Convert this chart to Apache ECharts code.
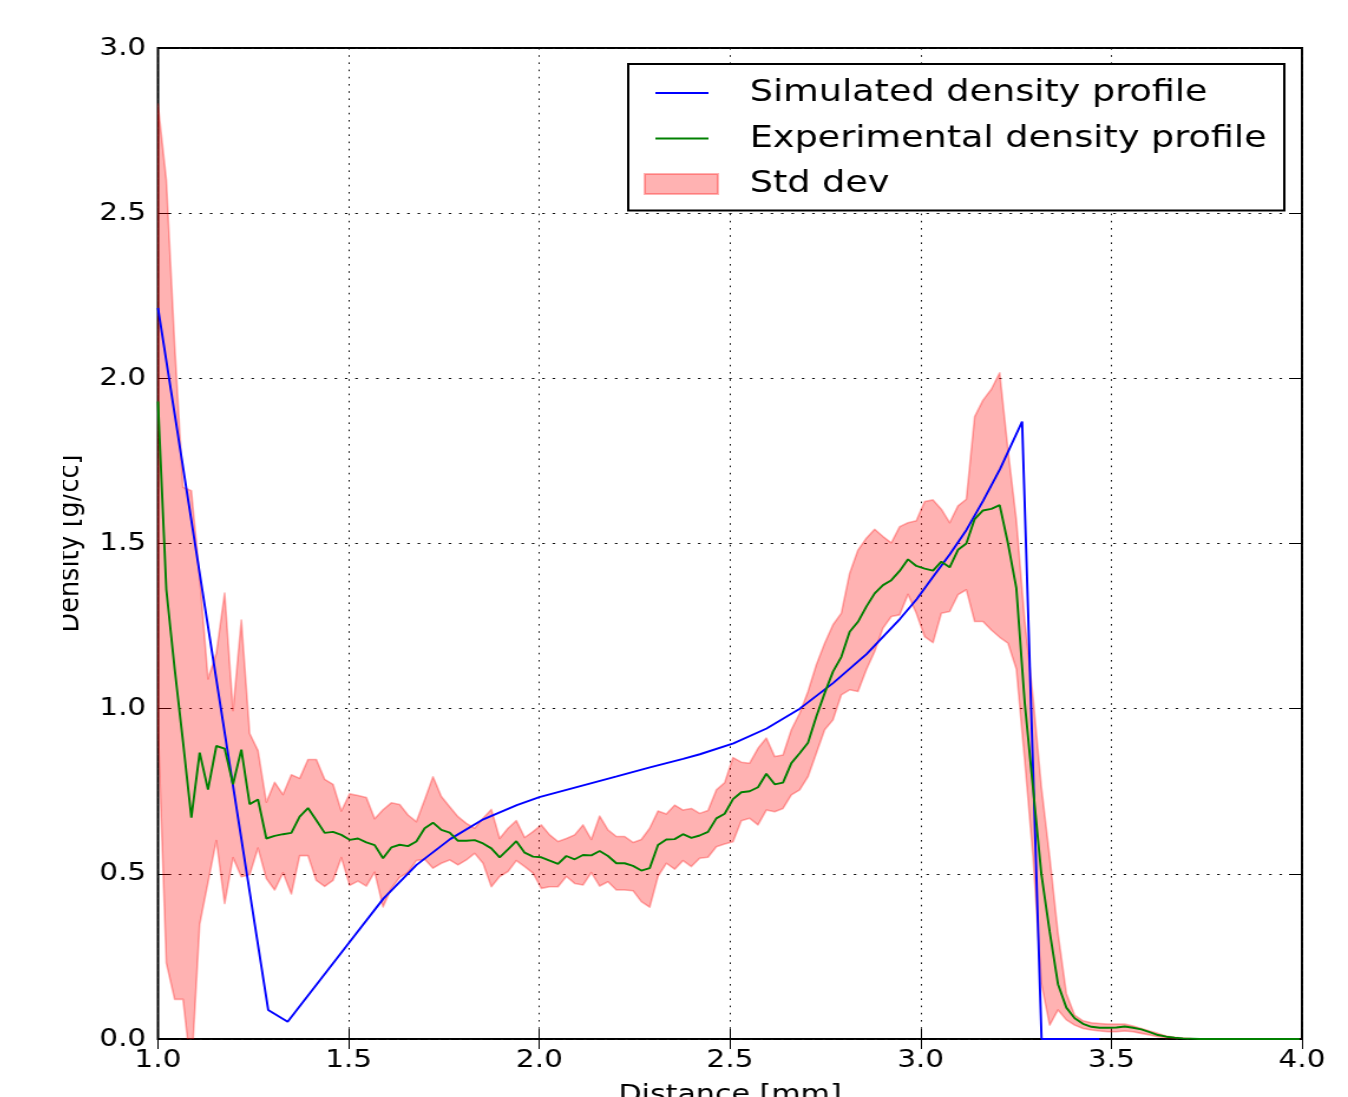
<!DOCTYPE html>
<html>
<head>
<meta charset="utf-8">
<title>Density profile</title>
<script src="https://cdn.jsdelivr.net/npm/echarts@6/dist/echarts.min.js"></script>
<style>
  html, body { margin: 0; padding: 0; background: #fff; overflow: hidden; }
  body { width: 1348px; height: 1097px; position: relative; }
  /* the figure is laid out narrower and widened horizontally */
  #chart {
    position: absolute; left: 63px; top: 0;
    width: 1089px; height: 1097px;
    transform: scaleX(1.18); transform-origin: 0 0;
  }
</style>
</head>
<body>
<div id="chart"></div>
<script>
// Experimental profile: sampled on a regular grid starting at X_START, step X_STEP (mm)
const X_START = 1.0;
const X_STEP = 0.021853;

const expDensity = [
  1.93, 1.36, 1.12, 0.90, 0.67, 0.867, 0.755, 0.887, 0.879, 0.771,
  0.876, 0.711, 0.725, 0.607, 0.615, 0.62, 0.624, 0.673, 0.699, 0.662,
  0.624, 0.627, 0.618, 0.603, 0.607, 0.595, 0.587, 0.547, 0.58, 0.588,
  0.584, 0.598, 0.638, 0.655, 0.633, 0.625, 0.600, 0.600, 0.602, 0.592,
  0.577, 0.550, 0.574, 0.599, 0.564, 0.552, 0.550, 0.540, 0.530, 0.554,
  0.544, 0.557, 0.556, 0.569, 0.554, 0.532, 0.532, 0.524, 0.510, 0.517,
  0.587, 0.604, 0.605, 0.620, 0.609, 0.616, 0.627, 0.668, 0.682, 0.726,
  0.747, 0.750, 0.762, 0.803, 0.771, 0.776, 0.835, 0.865, 0.897, 0.976,
  1.047, 1.112, 1.157, 1.233, 1.263, 1.309, 1.349, 1.374, 1.389, 1.417,
  1.452, 1.432, 1.424, 1.418, 1.445, 1.428, 1.481, 1.500, 1.574, 1.600,
  1.605, 1.616, 1.50, 1.365, 1.02, 0.76, 0.50, 0.325, 0.166, 0.095,
  0.063, 0.046, 0.037, 0.034, 0.034, 0.035, 0.038, 0.034, 0.029, 0.021,
  0.012, 0.007, 0.004, 0.002, 0.001, 0, 0, 0, 0, 0,
  0, 0, 0, 0, 0, 0, 0, 0
];

// Upper / lower edge of the standard-deviation band
const stdUpper = [
  2.83, 2.60, 2.10, 1.67, 1.66, 1.40, 1.09, 1.168, 1.35, 0.994,
  1.268, 0.925, 0.873, 0.717, 0.777, 0.74, 0.80, 0.789, 0.846, 0.846,
  0.786, 0.771, 0.69, 0.742, 0.737, 0.731, 0.667, 0.694, 0.715, 0.71,
  0.678, 0.658, 0.724, 0.794, 0.734, 0.703, 0.673, 0.653, 0.638, 0.668,
  0.695, 0.607, 0.638, 0.661, 0.610, 0.628, 0.648, 0.618, 0.598, 0.607,
  0.618, 0.648, 0.604, 0.675, 0.633, 0.613, 0.613, 0.595, 0.604, 0.638,
  0.690, 0.681, 0.708, 0.693, 0.698, 0.683, 0.692, 0.754, 0.776, 0.852,
  0.838, 0.835, 0.880, 0.911, 0.855, 0.860, 0.936, 0.986, 1.052, 1.133,
  1.198, 1.254, 1.289, 1.410, 1.480, 1.516, 1.543, 1.521, 1.502, 1.551,
  1.563, 1.569, 1.627, 1.632, 1.604, 1.563, 1.614, 1.634, 1.884, 1.934,
  1.967, 2.017, 1.783, 1.571, 1.268, 1.035, 0.764, 0.552, 0.32, 0.138,
  0.072, 0.055, 0.049, 0.047, 0.045, 0.045, 0.045, 0.039, 0.032, 0.024,
  0.017, 0.009, 0.005, 0.003, 0.001, 0, 0, 0, 0, 0,
  0, 0, 0, 0, 0, 0, 0, 0
];

const stdLower = [
  0.95, 0.23, 0.12, 0.12, -0.10, 0.347, 0.474, 0.601, 0.41, 0.549,
  0.491, 0.497, 0.578, 0.486, 0.451, 0.503, 0.439, 0.555, 0.555, 0.48,
  0.462, 0.48, 0.549, 0.465, 0.478, 0.463, 0.505, 0.40, 0.456, 0.489,
  0.504, 0.540, 0.544, 0.517, 0.532, 0.542, 0.527, 0.542, 0.562, 0.532,
  0.461, 0.492, 0.507, 0.540, 0.522, 0.502, 0.456, 0.461, 0.461, 0.492,
  0.471, 0.466, 0.504, 0.463, 0.476, 0.451, 0.451, 0.449, 0.416, 0.399,
  0.492, 0.532, 0.514, 0.540, 0.522, 0.547, 0.550, 0.582, 0.590, 0.597,
  0.661, 0.668, 0.648, 0.693, 0.688, 0.698, 0.739, 0.754, 0.794, 0.865,
  0.936, 0.966, 1.042, 1.057, 1.052, 1.118, 1.173, 1.244, 1.279, 1.284,
  1.346, 1.289, 1.218, 1.200, 1.289, 1.294, 1.345, 1.360, 1.264, 1.264,
  1.238, 1.216, 1.198, 1.120, 0.845, 0.552, 0.169, 0.042, 0.088, 0.058,
  0.042, 0.032, 0.027, 0.024, 0.022, 0.022, 0.024, 0.022, 0.017, 0.012,
  0.007, 0.004, 0.002, 0.001, 0, 0, 0, 0, 0, 0,
  0, 0, 0, 0, 0, 0, 0, 0
];

// Simulated profile (distance in mm, density in g/cc)
const simDistance = [
  1.0, 1.289, 1.340, 1.5035, 1.591, 1.678, 1.766, 1.853, 1.941, 2.0,
  2.115, 2.203, 2.29, 2.377, 2.421, 2.509, 2.596, 2.683, 2.771, 2.858,
  2.946, 2.99, 3.033, 3.077, 3.12, 3.164, 3.208, 3.266, 3.317, 3.469
];
const simDensity = [
  2.213, 0.088, 0.052, 0.295, 0.425, 0.527, 0.605, 0.665, 0.708, 0.732,
  0.768, 0.795, 0.822, 0.848, 0.862, 0.895, 0.940, 1.000, 1.078, 1.165,
  1.272, 1.332, 1.400, 1.468, 1.541, 1.630, 1.725, 1.869, 0, 0
];

const xTicks = { min: 1.0, max: 4.0, step: 0.5 };
const yTicks = { min: 0.0, max: 3.0, step: 0.5 };

const expDistance = expDensity.map((_, i) => +(X_START + i * X_STEP).toFixed(5));
const expData = expDistance.map((x, i) => [x, expDensity[i]]);
const simData = simDistance.map((x, i) => [x, simDensity[i]]);

const FONT = 'DejaVu Sans';
const BAND = 'rgba(255,0,0,0.3)';

const tickLabel = { fontFamily: FONT, fontSize: 25, color: '#000' };

function baseX(extra) {
  return Object.assign({
    type: 'value', min: xTicks.min, max: xTicks.max, interval: xTicks.step,
    axisLine: { show: false },
    axisTick: { show: true, inside: true, length: 10, lineStyle: { color: '#000', width: 1 } },
    splitLine: { show: false },
    axisLabel: { show: false }
  }, extra);
}
function baseY(extra) {
  return Object.assign({
    type: 'value', min: yTicks.min, max: yTicks.max, interval: yTicks.step,
    axisLine: { show: false },
    axisTick: { show: true, inside: true, length: 11, lineStyle: { color: '#000', width: 1 } },
    splitLine: { show: false },
    axisLabel: { show: false }
  }, extra);
}

const chart = echarts.init(document.getElementById('chart'), null, { renderer: 'canvas' });

chart.setOption({
  animation: false,
  backgroundColor: '#fff',
  grid: {
    left: 80.5, right: 39, top: 48, bottom: 58,
    outerBoundsMode: 'none',
    containLabel: false,
    show: true, borderColor: '#000', borderWidth: 2, backgroundColor: 'transparent'
  },
  xAxis: [
    baseX({
      position: 'bottom',
      splitLine: { show: true, lineStyle: { color: '#111', width: 1, type: [1.6, 5.6] } },
      axisLabel: Object.assign({
        show: true, margin: 9, showMinLabel: true, showMaxLabel: true,
        formatter: v => v.toFixed(1)
      }, tickLabel),
      name: 'Distance [mm]', nameLocation: 'middle', nameGap: 43,
      nameTextStyle: { fontFamily: FONT, fontSize: 25.5, color: '#000' }
    }),
    baseX({ position: 'top' })
  ],
  yAxis: [
    baseY({
      position: 'left',
      splitLine: { show: true, lineStyle: { color: '#111', width: 1, type: [2.2, 6.6] } },
      axisLabel: Object.assign({
        show: true, margin: 10, showMinLabel: true, showMaxLabel: true,
        formatter: v => v.toFixed(1)
      }, tickLabel),
      name: 'Density [g/cc]', nameLocation: 'middle', nameGap: 60, nameRotate: 90,
      nameTextStyle: { fontFamily: FONT, fontSize: 25.5, color: '#000' }
    }),
    baseY({ position: 'right' })
  ],
  legend: {
    orient: 'vertical',
    left: 479, top: 64,
    padding: [13.5, 15, 11, 12],
    itemGap: 14.5,
    itemWidth: 85, itemHeight: 22,
    borderColor: '#000', borderWidth: 2, backgroundColor: '#fff',
    selectedMode: false,
    textStyle: { fontFamily: FONT, fontSize: 31, color: '#000' },
    data: [
      { name: 'Simulated density profile',
        icon: 'path://M0,0M85,22M10,10.1L55,10.1L55,11.9L10,11.9Z',
        itemStyle: { color: '#0000ff', borderWidth: 0 } },
      { name: 'Experimental density profile',
        icon: 'path://M0,0M85,22M10,10.1L55,10.1L55,11.9L10,11.9Z',
        itemStyle: { color: '#008000', borderWidth: 0 } },
      { name: 'Std dev',
        icon: 'path://M0,0M85,22M1,1L63,1L63,21L1,21Z',
        itemStyle: { color: BAND, borderColor: BAND, borderWidth: 2 } }
    ]
  },
  series: [
    {
      name: 'Std dev',
      type: 'custom',
      clip: true,
      silent: true,
      itemStyle: { color: BAND },
      data: [[expDistance[0], stdUpper[0]]],
      renderItem: function (params, api) {
        const pts = [];
        for (let i = 0; i < expDistance.length; i++) {
          pts.push(api.coord([expDistance[i], stdUpper[i]]));
        }
        for (let i = expDistance.length - 1; i >= 0; i--) {
          pts.push(api.coord([expDistance[i], stdLower[i]]));
        }
        return {
          type: 'polygon',
          shape: { points: pts },
          style: { fill: BAND, stroke: BAND, lineWidth: 1.6, lineJoin: 'round' }
        };
      },
      z: 1
    },
    {
      name: 'Simulated density profile',
      type: 'line',
      data: simData,
      showSymbol: false,
      color: '#0000ff',
      itemStyle: { color: '#0000ff' },
      lineStyle: { color: '#0000ff', width: 1.9 },
      z: 3
    },
    {
      name: 'Experimental density profile',
      type: 'line',
      data: expData,
      showSymbol: false,
      color: '#008000',
      itemStyle: { color: '#008000' },
      lineStyle: { color: '#008000', width: 1.9 },
      z: 4
    }
  ]
});
</script>
</body>
</html>
